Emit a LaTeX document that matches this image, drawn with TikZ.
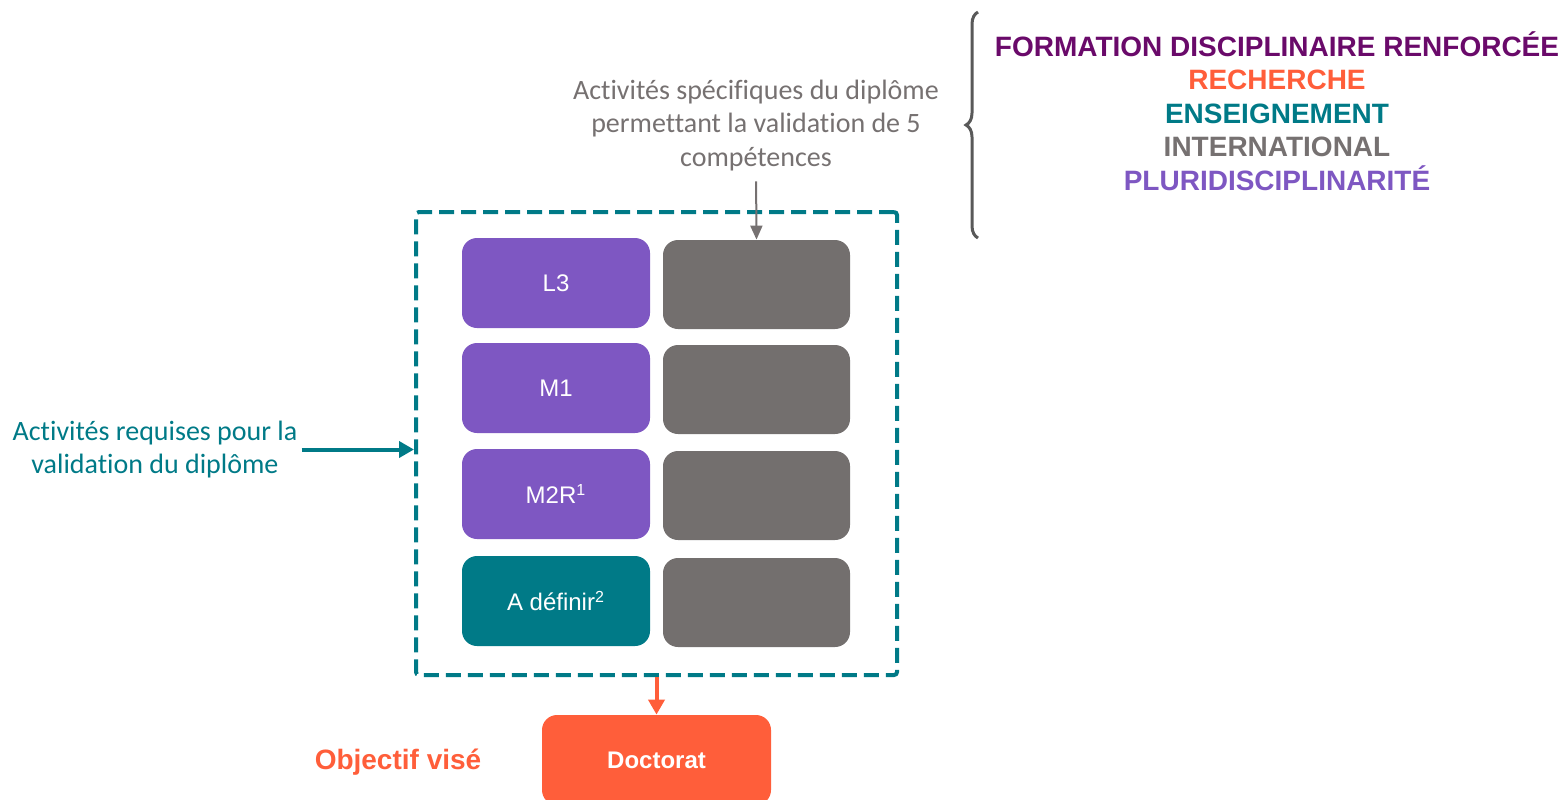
\documentclass[tikz,border=0pt]{standalone}
\usepackage{fontspec}
\setmainfont{Liberation Sans}
\newfontfamily\carlito[Ligatures=NoCommon]{Carlito}
\usepackage{tikz}
\usetikzlibrary{arrows.meta,decorations.pathreplacing}
\definecolor{violetbox}{HTML}{7E57C2}
\definecolor{graybox}{HTML}{736F6E}
\definecolor{tealdark}{HTML}{007A87}
\definecolor{orangevif}{HTML}{FF5E3A}
\definecolor{plum}{HTML}{6A0A6A}
\definecolor{graytext}{HTML}{767171}
\definecolor{bracegray}{HTML}{595959}
\tikzstyle{lvl}     = [rectangle, rounded corners=7.5pt, minimum width=94pt, minimum height=45pt, fill=violetbox, text=white, font=\fontsize{12}{14}\selectfont]
\tikzstyle{comp}    = [rectangle, rounded corners=7.5pt, minimum width=93.5pt, minimum height=44.5pt, fill=graybox]
\tikzstyle{note}    = [align=center, inner sep=0pt, font=\carlito\fontsize{14}{16.75}\selectfont]
\tikzstyle{frame}   = [rectangle, rounded corners=1.5pt, draw=tealdark, line width=2pt, dash pattern=on 7.5pt off 3.5pt, minimum width=240.5pt, minimum height=231.5pt]
\tikzstyle{arrow}   = [line width=2pt, -{Triangle[length=7.5pt,width=8pt]}]

\begin{document}
\begin{tikzpicture}[x=0.5pt,y=-0.5pt]
    \useasboundingbox (0,0) rectangle (1562,799);

    % levels and competences
    \node[lvl] (l3) at (556,283) {L3};
    \node[lvl] (m1) at (556,388) {M1};
    \node[lvl] (m2r) at (556,494) {M2R\textsuperscript{1}};
    \node[lvl, fill=tealdark] (adef) at (556,601) {A définir\textsuperscript{2}};
    \node[comp] (c1) at (756.5,284.5) {};
    \node[comp] (c2) at (756.5,389.5) {};
    \node[comp] (c3) at (756.5,495.5) {};
    \node[comp] (c4) at (756.5,602.5) {};
    \node[frame] (frame) at (656.5,443.5) {};

    \node[rectangle, rounded corners=7.5pt, fill=orangevif, minimum width=114.5pt, minimum height=45pt, text=white, font=\bfseries\fontsize{12}{14}\selectfont] (doct) at (656.5,760) {Doctorat};
    \node[text=orangevif, font=\bfseries\fontsize{14}{16}\selectfont] (obj) at (398,762) {Objectif visé};

    \node[note, text=tealdark] (reqtxt) at (155,449.5) {Activités requises pour la\\validation du diplôme};
    \node[note, text=graytext] (spectxt) at (756,125.5) {Activités spécifiques du diplôme\\permettant la validation de 5\\compétences};

    \node[align=center, font=\bfseries\fontsize{14}{16.75}\selectfont] (list) at (1277,111) {\textcolor{plum}{FORMATION DISCIPLINAIRE RENFORCÉE}\\\textcolor{orangevif}{RECHERCHE}\\\textcolor{tealdark}{ENSEIGNEMENT}\\\textcolor{graytext}{INTERNATIONAL}\\\textcolor{violetbox}{PLURIDISCIPLINARITÉ}};

    \draw[bracegray, line width=1.5pt, decorate, decoration={brace, amplitude=6pt}] (978,238) -- (978,12);

    \draw[arrow, tealdark, shorten <=2pt] (reqtxt.east) -- (reqtxt.east -| frame.west);
    \draw[arrow, orangevif] (frame.south) -- (doct.north);
    \draw[graytext, line width=1pt, -{Triangle[length=7pt,width=6pt]}, shorten <=5pt] (spectxt.south) -- (c1.north);
\end{tikzpicture}
\end{document}
